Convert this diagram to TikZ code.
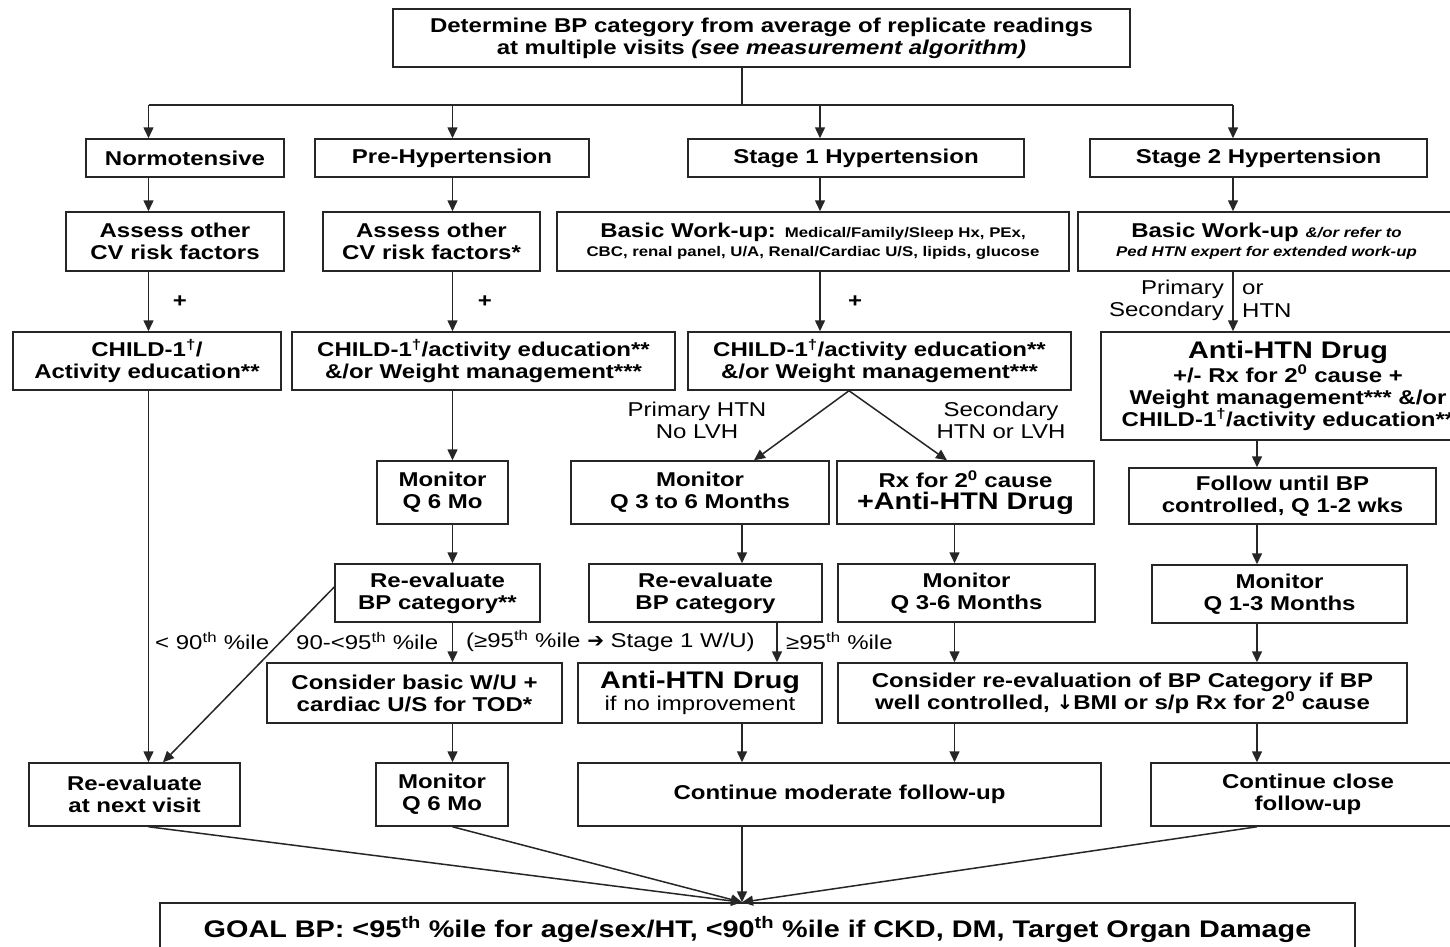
\documentclass[tikz,border=0pt]{standalone}
\usepackage{fontspec}
\setmainfont[FakeStretch=1.2]{Liberation Sans}
\newfontfamily\symfont{DejaVu Sans}
\usepackage{tikz}
\usetikzlibrary{arrows.meta}
\newcommand{\sml}{\fontsize{14}{17}\selectfont}
\newcommand{\lrg}{\fontsize{24}{26}\selectfont}

\begin{document}
\begin{tikzpicture}[x=1pt,y=-1pt,
  box/.style 2 args={draw=black!85, line width=1.5pt, align=center, inner sep=0pt,
    minimum width=#1, minimum height=#2, font=\fontsize{20}{22}\selectfont\bfseries},
  lbl/.style={inner sep=0pt, align=center, font=\fontsize{20}{22}\selectfont},
  ln/.style={draw=black!85, line width=1.5pt},
  arr/.style={ln, -{Triangle[length=11pt,width=10pt]}}]
\useasboundingbox (0,0) rectangle (1450,946);
\fill[white] (0,0) rectangle (1450,946);
\clip (0,0) rectangle (1450,946);
\coordinate (cA) at (148.5,0);
\coordinate (cB) at (452.5,0);
\coordinate (cC) at (820,0);
\coordinate (cD) at (1233,0);
\coordinate (cE) at (742,0);
\coordinate (cF) at (954.5,0);
\coordinate (cG) at (1257,0);
\coordinate (cH) at (777,0);
\coordinate (cI) at (849,0);
\coordinate (cJ) at (754,0);
\coordinate (cK) at (947,0);
\coordinate (cL) at (163,0);
\coordinate (split) at (742,105);
\node[box={737}{58}] (top) at (761.5,38) {Determine BP category from average of replicate readings\\at multiple visits \textit{(see measurement algorithm)}};
\node[box={198}{38}] (norm) at (185,158) {Normotensive};
\node[box={274}{38}] (pre) at (452,158) {Pre-Hypertension};
\node[box={336}{38}] (s1) at (856,158) {Stage 1 Hypertension};
\node[box={337}{38}] (s2) at (1258.5,158) {Stage 2 Hypertension};
\node[box={218}{59}] (assA) at (175,241.5) {Assess other\\CV risk factors};
\node[box={217}{59}] (assB) at (431.5,241.5) {Assess other\\CV risk factors*};
\node[box={512}{59}] (wuA) at (813,241.5) {Basic Work-up: {\sml Medical/Family/Sleep Hx, PEx,}\\[-3pt]{\sml CBC, renal panel, U/A, Renal/Cardiac U/S, lipids, glucose}};
\node[box={377}{59}] (wuB) at (1266.5,241.5) {Basic Work-up {\sml\itshape \&/or refer to}\\[-3pt]{\sml\itshape Ped HTN expert for extended work-up}};
\node[box={268}{58}] (childA) at (147,361) {CHILD-1\textsuperscript{†}/\\Activity education**};
\node[box={383}{58}] (childB) at (483.5,361) {CHILD-1\textsuperscript{†}/activity education**\\\&/or Weight management***};
\node[box={383}{58}] (childC) at (879.5,361) {CHILD-1\textsuperscript{†}/activity education**\\\&/or Weight management***};
\node[box={374}{108}] (drug) at (1288,386) {{\lrg Anti-HTN Drug}\\+/- Rx for 2\textsuperscript{0} cause +\\Weight management*** \&/or\\CHILD-1\textsuperscript{†}/activity education**};
\node[box={131}{63}] (monA) at (442.5,492.5) {Monitor\\Q 6 Mo};
\node[box={258}{63}] (monB) at (700,492.5) {Monitor\\Q 3 to 6 Months};
\node[box={257}{63}] (rx) at (965.5,492.5) {Rx for 2\textsuperscript{0} cause\\{\lrg +Anti-HTN Drug}};
\node[box={307}{56}] (follow) at (1282.5,496) {Follow until BP\\controlled, Q 1-2 wks};
\node[box={205}{58}] (reA) at (437.5,593) {Re-evaluate\\BP category**};
\node[box={233}{58}] (reB) at (705.5,593) {Re-evaluate\\BP category};
\node[box={257}{58}] (monC) at (966.5,593) {Monitor\\Q 3-6 Months};
\node[box={255}{58}] (monD) at (1279.5,594) {Monitor\\Q 1-3 Months};
\node[box={295}{60}] (conA) at (414.5,693) {Consider basic W/U +\\cardiac U/S for TOD*};
\node[box={244}{60}] (drugB) at (700,693) {{\lrg Anti-HTN Drug}\\{\mdseries if no improvement}};
\node[box={569}{60}] (conB) at (1122.5,693) {Consider re-evaluation of BP Category if BP\\well controlled, {\symfont\bfseries ↓}BMI or s/p Rx for 2\textsuperscript{0} cause};
\node[box={211}{63}] (reC) at (134.5,794.5) {Re-evaluate\\at next visit};
\node[box={132}{63}] (monE) at (442,794.5) {Monitor\\Q 6 Mo};
\node[box={523}{63}] (contA) at (839.5,794.5) {Continue moderate follow-up};
\node[box={314}{63}] (contB) at (1308,794.5) {Continue close\\follow-up};
\node[box={1195}{52}] (goal) at (757.5,929) {\lrg GOAL BP: <95\textsuperscript{th} \%ile for age/sex/HT, <90\textsuperscript{th} \%ile if CKD, DM, Target Organ Damage};
\node[lbl, font=\fontsize{20}{22}\selectfont\bfseries] (plusA) at (180,302) {+};
\node[lbl, font=\fontsize{20}{22}\selectfont\bfseries] (plusB) at (485,302) {+};
\node[lbl, font=\fontsize{20}{22}\selectfont\bfseries] (plusC) at (855,302) {+};
\node[lbl, anchor=east] (prim) at (1224,289) {Primary};
\node[lbl, anchor=east] (sec) at (1224,311) {Secondary};
\node[lbl, anchor=west] (or) at (1242,289) {or};
\node[lbl, anchor=west] (htn) at (1242,311) {HTN};
\node[lbl] (noLVH) at (697,420) {Primary HTN\\No LVH};
\node[lbl] (LVH) at (1001,420) {Secondary\\HTN or LVH};
\node[lbl, anchor=west] (lt90) at (155,641) {< 90\textsuperscript{th} \%ile};
\node[lbl, anchor=west] (mid90) at (296,641) {90-<95\textsuperscript{th} \%ile};
\node[lbl, anchor=west] (geA) at (466,641) {(≥95\textsuperscript{th} \%ile {\symfont\bfseries ➔} Stage 1 W/U)};
\node[lbl, anchor=west] (geB) at (786,641) {≥95\textsuperscript{th} \%ile};
\draw[ln] (top.south -| cE) -- (split);
\draw[ln] (split -| cA) -- (split -| cD);
\draw[arr] (split -| cA) -- (norm.north -| cA);
\draw[arr] (split -| cB) -- (pre.north -| cB);
\draw[arr] (split -| cC) -- (s1.north -| cC);
\draw[arr] (split -| cD) -- (s2.north -| cD);
\draw[arr] (norm.south -| cA) -- (assA.north -| cA);
\draw[arr] (pre.south -| cB) -- (assB.north -| cB);
\draw[arr] (s1.south -| cC) -- (wuA.north -| cC);
\draw[arr] (s2.south -| cD) -- (wuB.north -| cD);
\draw[arr] (assA.south -| cA) -- (childA.north -| cA);
\draw[arr] (assB.south -| cB) -- (childB.north -| cB);
\draw[arr] (wuA.south -| cC) -- (childC.north -| cC);
\draw[arr] (wuB.south -| cD) -- (drug.north -| cD);
\draw[arr] (childA.south -| cA) -- (reC.north -| cA);
\draw[arr] (childB.south -| cB) -- (monA.north -| cB);
\draw[arr] (childC.south -| cI) -- (monB.north -| cJ);
\draw[arr] (childC.south -| cI) -- (rx.north -| cK);
\draw[arr] (drug.south -| cG) -- (follow.north -| cG);
\draw[arr] (monA.south -| cB) -- (reA.north -| cB);
\draw[arr] (monB.south -| cE) -- (reB.north -| cE);
\draw[arr] (rx.south -| cF) -- (monC.north -| cF);
\draw[arr] (follow.south -| cG) -- (monD.north -| cG);
\draw[arr] ([yshift=6pt]reA.west) -- (reC.north -| cL);
\draw[arr] (reA.south -| cB) -- (conA.north -| cB);
\draw[arr] (reB.south -| cH) -- (drugB.north -| cH);
\draw[arr] (monC.south -| cF) -- (conB.north -| cF);
\draw[arr] (monD.south -| cG) -- (conB.north -| cG);
\draw[arr] (conA.south -| cB) -- (monE.north -| cB);
\draw[arr] (drugB.south -| cE) -- (contA.north -| cE);
\draw[arr] (conB.south -| cF) -- (contA.north -| cF);
\draw[arr] (conB.south -| cG) -- (contB.north -| cG);
\draw[arr] (reC.south -| cA) -- (goal.north -| cE);
\draw[arr] (monE.south -| cB) -- (goal.north -| cE);
\draw[arr] (contA.south -| cE) -- (goal.north -| cE);
\draw[arr] (contB.south -| cG) -- (goal.north -| cE);
\end{tikzpicture}
\end{document}
